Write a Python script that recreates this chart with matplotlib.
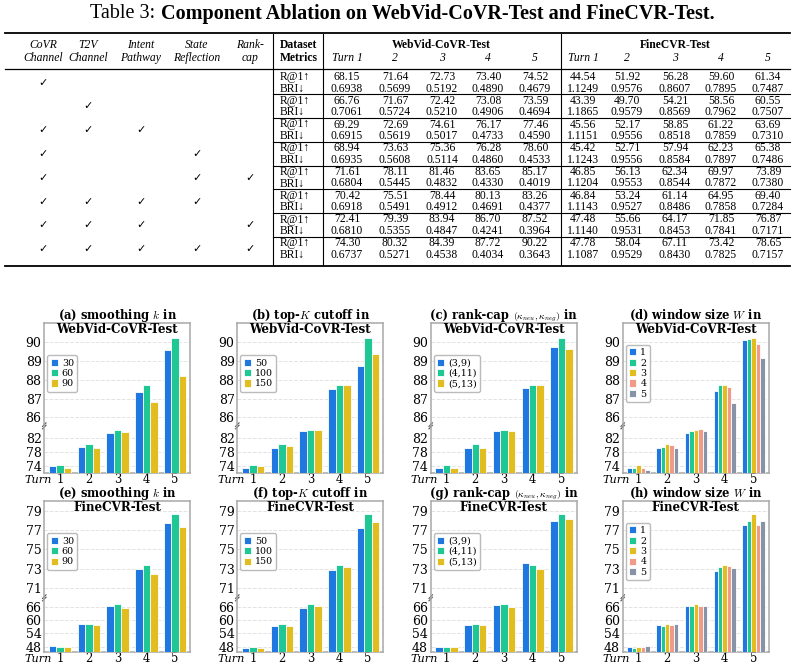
"""Table 3 plus the eight hyper-parameter bar charts (broken y axis)."""
import numpy as np
import matplotlib
matplotlib.use('Agg')
import matplotlib.pyplot as plt
from matplotlib.lines import Line2D
from matplotlib.transforms import blended_transform_factory


# ---- table data -------------------------------------------------------
left_header_top = ['CoVR', 'T2V', 'Intent', 'State', 'Rank-']
left_header_bot = ['Channel', 'Channel', 'Pathway', 'Reflection', 'cap']
checks = [
    [1, 0, 0, 0, 0],
    [0, 1, 0, 0, 0],
    [1, 1, 1, 0, 0],
    [1, 0, 0, 1, 0],
    [1, 0, 0, 1, 1],
    [1, 1, 1, 1, 0],
    [1, 1, 1, 0, 1],
    [1, 1, 1, 1, 1],
]
turn_headers = ['Turn 1', '2', '3', '4', '5']
webvid_r1 = [
    [68.15, 71.64, 72.73, 73.40, 74.52],
    [66.76, 71.67, 72.42, 73.08, 73.59],
    [69.29, 72.69, 74.61, 76.17, 77.46],
    [68.94, 73.63, 75.36, 76.28, 78.60],
    [71.61, 78.11, 81.46, 83.65, 85.17],
    [70.42, 75.51, 78.44, 80.13, 83.26],
    [72.41, 79.39, 83.94, 86.70, 87.52],
    [74.30, 80.32, 84.39, 87.72, 90.22],
]
webvid_bri = [
    [0.6938, 0.5699, 0.5192, 0.4890, 0.4679],
    [0.7061, 0.5724, 0.5210, 0.4906, 0.4694],
    [0.6915, 0.5619, 0.5017, 0.4733, 0.4590],
    [0.6935, 0.5608, 0.5114, 0.4860, 0.4533],
    [0.6804, 0.5445, 0.4832, 0.4330, 0.4019],
    [0.6918, 0.5491, 0.4912, 0.4691, 0.4377],
    [0.6810, 0.5355, 0.4847, 0.4241, 0.3964],
    [0.6737, 0.5271, 0.4538, 0.4034, 0.3643],
]
fine_r1 = [
    [44.54, 51.92, 56.28, 59.60, 61.34],
    [43.39, 49.70, 54.21, 58.56, 60.55],
    [45.56, 52.17, 58.85, 61.22, 63.69],
    [45.42, 52.71, 57.94, 62.23, 65.38],
    [46.85, 56.13, 62.34, 69.97, 73.89],
    [46.84, 53.24, 61.14, 64.95, 69.40],
    [47.48, 55.66, 64.17, 71.85, 76.87],
    [47.78, 58.04, 67.11, 73.42, 78.65],
]
fine_bri = [
    [1.1249, 0.9576, 0.8607, 0.7895, 0.7487],
    [1.1865, 0.9579, 0.8569, 0.7962, 0.7507],
    [1.1151, 0.9556, 0.8518, 0.7859, 0.7310],
    [1.1243, 0.9556, 0.8584, 0.7897, 0.7486],
    [1.1204, 0.9553, 0.8544, 0.7872, 0.7380],
    [1.1143, 0.9527, 0.8486, 0.7858, 0.7284],
    [1.1140, 0.9531, 0.8453, 0.7841, 0.7171],
    [1.1087, 0.9529, 0.8430, 0.7825, 0.7157],
]

# ---- chart data --------------------------------------------------------
turns = ['1', '2', '3', '4', '5']

wv_smooth_labels = ['30', '60', '90']
wv_smooth = [
    [73.90, 79.54, 83.42, 87.36, 89.57],
    [74.30, 80.32, 84.39, 87.72, 90.22],
    [73.52, 79.25, 83.80, 86.80, 88.20],
]
wv_topk_labels = ['50', '100', '150']
wv_topk = [
    [73.52, 79.25, 84.10, 87.50, 88.72],
    [74.30, 80.32, 84.39, 87.72, 90.22],
    [73.90, 79.64, 84.39, 87.72, 89.38],
]
wv_cap_labels = ['(3,9)', '(4,11)', '(5,13)']
wv_cap = [
    [73.42, 79.25, 84.10, 87.57, 89.75],
    [74.30, 80.32, 84.39, 87.72, 90.22],
    [73.33, 79.25, 84.10, 87.72, 89.63],
]
wv_window_labels = ['1', '2', '3', '4', '5']
wv_window = [
    [73.50, 79.25, 83.50, 87.41, 90.12],
    [73.40, 79.45, 84.00, 87.70, 90.16],
    [74.30, 80.32, 84.39, 87.72, 90.22],
    [73.30, 80.00, 84.55, 87.63, 89.90],
    [72.75, 79.05, 84.10, 86.75, 89.15],
]

fc_smooth = [
    [48.38, 58.04, 66.20, 72.97, 77.73],
    [47.78, 58.04, 67.11, 73.42, 78.65],
    [47.93, 57.60, 65.50, 72.45, 77.31],
]
fc_topk = [
    [47.63, 57.15, 65.60, 72.83, 77.20],
    [47.78, 58.04, 67.11, 73.42, 78.65],
    [47.33, 57.45, 66.50, 73.20, 77.83],
]
fc_cap = [
    [47.93, 57.74, 66.66, 73.59, 77.90],
    [47.78, 58.04, 67.11, 73.42, 78.65],
    [48.08, 57.60, 66.07, 73.00, 78.17],
]
fc_window = [
    [48.10, 57.60, 66.50, 72.80, 77.55],
    [47.63, 57.45, 66.50, 73.14, 77.97],
    [47.78, 58.04, 67.11, 73.42, 78.65],
    [47.93, 57.60, 66.50, 73.28, 77.55],
    [48.20, 58.04, 66.35, 73.07, 77.93],
]

wv_ticks = [74, 78, 82, 86, 87, 88, 89, 90]
fc_ticks = [48, 54, 60, 66, 71, 73, 75, 77, 79]

COLORS = ['#1f78e0', '#1fc795', '#e2bd1f', '#f29a88', '#8794a7']

W, H = 798, 670
plt.rcParams['font.family'] = ['DejaVu Serif']
plt.rcParams['mathtext.fontset'] = 'cm'
fig = plt.figure(figsize=(W / 100, H / 100), dpi=100)
renderer = fig.canvas.get_renderer()


def fx(x):
    return x / W


def fy(y):
    return 1 - y / H


TABLE_FONT = ['Liberation Serif', 'DejaVu Serif']


def put(x, y, s, **kw):
    kw.setdefault('family', TABLE_FONT)
    kw.setdefault('fontsize', 8.4)
    kw.setdefault('va', 'center')
    kw.setdefault('ha', 'center')
    fig.text(fx(x), fy(y), s, **kw)


def rule(x0, x1, y0, y1, lw):
    fig.add_artist(Line2D([fx(x0), fx(x1)], [fy(y0), fy(y1)], color='black',
                          lw=lw, transform=fig.transFigure))


# ---- table ------------------------------------------------------------
put(155, 14, 'Table 3:', ha='right', fontsize=14.5)
put(161, 14, 'Component Ablation on WebVid-CoVR-Test and FineCVR-Test.',
    ha='left', fontsize=14.5, weight='bold')

left_x = [43, 88, 141, 197, 250]
wv_x = [347, 395, 442, 488, 535]
fc_x = [583, 627, 675, 721, 768]
row0, block, sub = 77, 23.75, 11.5

rule(5, 790, 33, 33, 1.3)
rule(5, 790, 68.5, 68.5, 0.9)
rule(5, 790, 266, 266, 1.3)
for vx in (273, 323, 561):
    rule(vx, vx, 34, 265, 0.8)

for x, top, bot in zip(left_x, left_header_top, left_header_bot):
    put(x, 45, top, style='italic')
    put(x, 58, bot, style='italic')
put(280, 45, 'Dataset', ha='left', weight='bold')
put(280, 58, 'Metrics', ha='left', weight='bold')
put(np.mean(wv_x), 45, 'WebVid-CoVR-Test', weight='bold')
put(np.mean(fc_x), 45, 'FineCVR-Test', weight='bold')
for x, s in zip(wv_x + fc_x, turn_headers * 2):
    put(x, 58, s, style='italic')

for i in range(len(checks)):
    y = row0 + i * block
    if i > 0:
        rule(273, 790, y - 6.5, y - 6.5, 0.8)
    for x, c in zip(left_x, checks[i]):
        if c:
            put(x, y + sub / 2, '\u2713', family=['DejaVu Sans'], fontsize=8)
    put(280, y, 'R@1\u2191', ha='left')
    put(280, y + sub, 'BRI\u2193', ha='left')
    for j in range(5):
        put(wv_x[j], y, f'{webvid_r1[i][j]:.2f}')
        put(wv_x[j], y + sub, f'{webvid_bri[i][j]:.4f}')
        put(fc_x[j], y, f'{fine_r1[i][j]:.2f}')
        put(fc_x[j], y + sub, f'{fine_bri[i][j]:.4f}')


# ---- bar charts ---------------------------------------------------------
def broken_scale(brk, ratio):
    def fwd(v):
        v = np.asarray(v, float)
        return np.where(v < brk, brk + (v - brk) * ratio, v)

    def inv(t):
        t = np.asarray(t, float)
        return np.where(t < brk, brk + (t - brk) / ratio, t)
    return fwd, inv


def centered_title(ax, pieces, y):
    """Lay out (text, fontsize) pieces on one baseline, centred on the axes."""
    texts = [ax.text(0, y, s, transform=ax.transAxes, fontsize=size,
                     weight='bold', ha='left', va='baseline')
             for s, size in pieces]
    widths = [t.get_window_extent(renderer).width for t in texts]
    box = ax.get_window_extent(renderer)
    x = box.x0 + box.width / 2 - sum(widths) / 2
    for t, w in zip(texts, widths):
        t.set_x((x - box.x0) / box.width)
        x += w


def bar_panel(rect, title, dataset, labels, series, ticks, ylim, brk, ratio):
    ax = fig.add_axes(rect)
    fwd, inv = broken_scale(brk, ratio)
    ax.set_yscale('function', functions=(fwd, inv))
    x = np.arange(len(turns))
    n = len(series)
    width = 0.78 / n
    for i, (lab, vals) in enumerate(zip(labels, series)):
        ax.bar(x + (i - (n - 1) / 2) * width, vals, width, color=COLORS[i],
               edgecolor='white', linewidth=0.6, label=lab, zorder=3)
    ax.set_ylim(*ylim)
    ax.set_xlim(-0.55, 4.53)
    ax.set_yticks(ticks)
    ax.set_yticklabels([str(t) for t in ticks])
    ax.set_xticks(x)
    ax.set_xticklabels(turns)
    ax.tick_params(axis='y', length=0, labelsize=9, pad=2)
    ax.tick_params(axis='x', length=0, labelsize=8.3, pad=0.3)
    ax.yaxis.grid(True, color='#e3e3e3', linestyle='--', linewidth=0.7)
    ax.set_axisbelow(True)
    for sp in ax.spines.values():
        sp.set_color('#a8a8a8')
        sp.set_linewidth(1.1)

    tr = blended_transform_factory(ax.transData, ax.transAxes)
    ax.text(-0.3, -0.047, 'Turn', transform=tr, ha='right', va='center',
            style='italic', fontsize=8.1)
    centered_title(ax, title, 1.026)
    ax.text(0.5, 0.958, dataset, transform=ax.transAxes, ha='center',
            va='center', weight='bold', fontsize=8.6)

    # break mark on the left spine
    lo, hi = fwd(ylim[0]), fwd(ylim[1])
    yb = float((fwd(brk) - lo) / (hi - lo))
    for dy in (-0.008, 0.008):
        ax.add_line(Line2D([-0.012, 0.012], [yb + dy - 0.012, yb + dy + 0.012],
                           transform=ax.transAxes, color='#555555', lw=0.8,
                           clip_on=False))

    ax.legend(loc='center left', bbox_to_anchor=(0.02, 0.665), fontsize=6.8,
              handlelength=0.8, handleheight=0.8, handletextpad=0.4,
              labelspacing=0.15, borderpad=0.35, borderaxespad=0,
              edgecolor='#bbbbbb', framealpha=1)
    return ax


col_x = [44.3, 237.3, 430.7, 622.7]
panel_w = 146
row_top = [323.3, 501]
panel_h = [149.7, 150.7]


def rect(col, row):
    return [fx(col_x[col]), fy(row_top[row] + panel_h[row]),
            panel_w / W, panel_h[row] / H]


def cap_title(letter):
    return [(f'({letter}) rank-cap ', 8.3),
            (r'$(\kappa_{neu},\kappa_{neg})$', 7.0), (' in', 8.3)]


wv_lim, wv_brk, wv_ratio = (72.0, 91.0), 85.55, 0.185
fc_lim, fc_brk, fc_ratio = (45.8, 80.0), 70.0, 0.23

bar_panel(rect(0, 0), [('(a) smoothing $k$ in', 8.3)], 'WebVid-CoVR-Test',
          wv_smooth_labels, wv_smooth, wv_ticks, wv_lim, wv_brk, wv_ratio)
bar_panel(rect(1, 0), [('(b) top-$K$ cutoff in', 8.3)], 'WebVid-CoVR-Test',
          wv_topk_labels, wv_topk, wv_ticks, wv_lim, wv_brk, wv_ratio)
bar_panel(rect(2, 0), cap_title('c'), 'WebVid-CoVR-Test',
          wv_cap_labels, wv_cap, wv_ticks, wv_lim, wv_brk, wv_ratio)
bar_panel(rect(3, 0), [('(d) window size $W$ in', 8.3)], 'WebVid-CoVR-Test',
          wv_window_labels, wv_window, wv_ticks, wv_lim, wv_brk, wv_ratio)

bar_panel(rect(0, 1), [('(e) smoothing $k$ in', 8.3)], 'FineCVR-Test',
          wv_smooth_labels, fc_smooth, fc_ticks, fc_lim, fc_brk, fc_ratio)
bar_panel(rect(1, 1), [('(f) top-$K$ cutoff in', 8.3)], 'FineCVR-Test',
          wv_topk_labels, fc_topk, fc_ticks, fc_lim, fc_brk, fc_ratio)
bar_panel(rect(2, 1), cap_title('g'), 'FineCVR-Test',
          wv_cap_labels, fc_cap, fc_ticks, fc_lim, fc_brk, fc_ratio)
bar_panel(rect(3, 1), [('(h) window size $W$ in', 8.3)], 'FineCVR-Test',
          wv_window_labels, fc_window, fc_ticks, fc_lim, fc_brk, fc_ratio)

fig.savefig('out.png', dpi=100, facecolor='white')
